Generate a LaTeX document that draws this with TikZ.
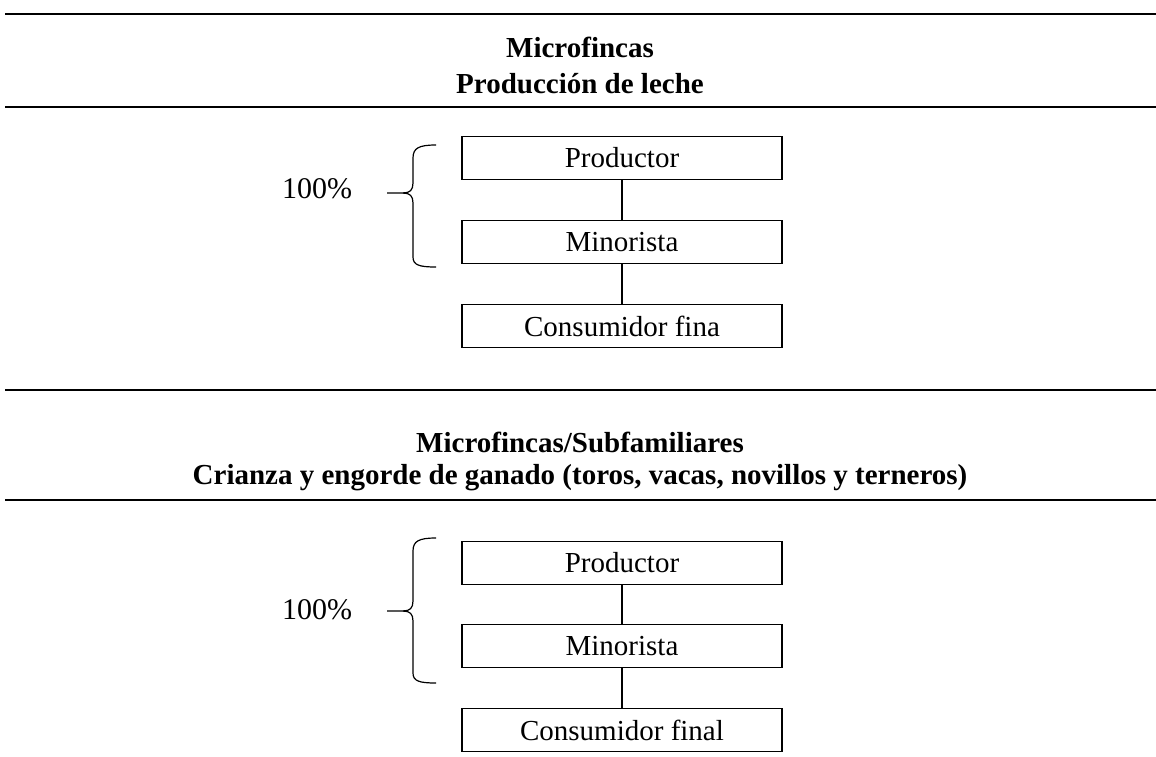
\documentclass[tikz,border=0pt]{standalone}
\usepackage{fontspec}
\setmainfont{Liberation Serif}
\begin{document}
\begin{tikzpicture}[x=1pt,y=-1pt,
  rule/.style={line width=1.8pt},
  stage/.style={draw,line width=1.1pt,minimum width=320pt,minimum height=43pt,inner sep=0pt,font=\fontsize{29}{32}\selectfont},
  ttl/.style={font=\fontsize{29}{32}\bfseries\selectfont},
  pct/.style={font=\fontsize{30}{33}\selectfont},
  link/.style={line width=1.1pt},
  brace/.style={line width=1.2pt}]
\useasboundingbox (0,0) rectangle (1156,756);
% section 1
\draw[rule] (5,14) -- (1156,14);
\node[ttl] (t1a) at (580,47) {Microfincas};
\node[ttl] (t1b) at (580,84) {Producción de leche};
\draw[rule] (5,107) -- (1156,107);
\node[stage] (p1) at (622,158) {Productor};
\node[stage] (m1) at (622,242) {Minorista};
\node[stage] (c1) at (622,326) {Consumidor fina};
\draw[link] (p1) -- (m1);
\draw[link] (m1) -- (c1);
\node[pct] (q1) at (317,189) {100\%};
\draw[brace] (436,145) .. controls (419,145) and (413,148) .. (413,158) -- (413,183)
  .. controls (413,190) and (410,193) .. (403,193) -- (387,193);
\draw[brace] (403,193) .. controls (410,193) and (413,196) .. (413,203) -- (413,257)
  .. controls (413,265) and (419,267) .. (436,267);
% section 2
\draw[rule] (5,390) -- (1156,390);
\node[ttl] (t2a) at (580,442) {Microfincas/Subfamiliares};
\node[ttl] (t2b) at (580,478) {Crianza y engorde de ganado (toros, vacas, novillos y terneros)};
\draw[rule] (5,500) -- (1156,500);
\node[stage] (p2) at (622,563) {Productor};
\node[stage] (m2) at (622,646) {Minorista};
\node[stage] (c2) at (622,730) {Consumidor final};
\draw[link] (p2) -- (m2);
\draw[link] (m2) -- (c2);
\node[pct] (q2) at (317,610) {100\%};
\draw[brace] (436,538) .. controls (419,538) and (413,541) .. (413,551) -- (413,601)
  .. controls (413,608) and (410,611) .. (403,611) -- (387,611);
\draw[brace] (403,611) .. controls (410,611) and (413,614) .. (413,621) -- (413,673)
  .. controls (413,681) and (419,683) .. (436,683);
\end{tikzpicture}
\end{document}
